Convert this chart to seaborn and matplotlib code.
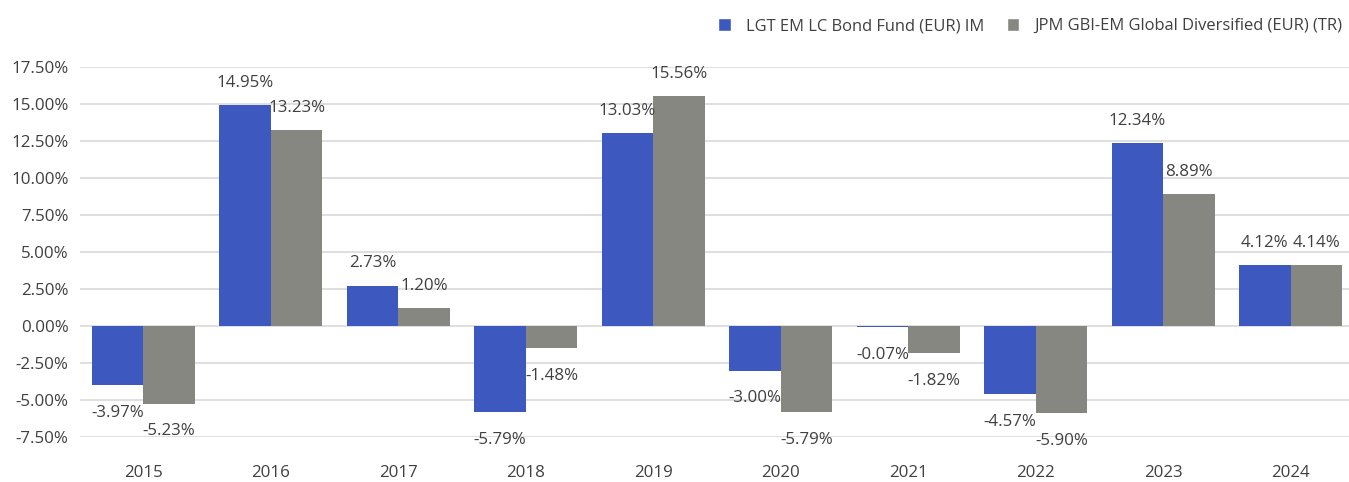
import numpy as np
import pandas as pd
from matplotlib import pyplot as plt
from matplotlib.ticker import FuncFormatter
from matplotlib.patches import Patch
import seaborn as sns

years = ["2015", "2016", "2017", "2018", "2019", "2020", "2021", "2022", "2023", "2024"]
fund_name = "LGT EM LC Bond Fund (EUR) IM"
bench_name = "JPM GBI-EM Global Diversified (EUR) (TR)"
fund_values = [-3.97, 14.95, 2.73, -5.79, 13.03, -3.00, -0.07, -4.57, 12.34, 4.12]
bench_values = [-5.23, 13.23, 1.20, -1.48, 15.56, -5.79, -1.82, -5.90, 8.89, 4.14]
y_ticks = [-7.5, -5.0, -2.5, 0.0, 2.5, 5.0, 7.5, 10.0, 12.5, 15.0, 17.5]

blue = "#3D59BF"
grey = "#878782"
text_col = "#404040"

sns.set_style("white")
plt.rcParams["font.family"] = ["Open Sans", "DejaVu Sans"]

df = pd.DataFrame({
    "year": years * 2,
    "value": fund_values + bench_values,
    "series": [fund_name] * len(years) + [bench_name] * len(years),
})

fig = plt.figure(figsize=(13.49, 4.82), dpi=100)
ax = fig.add_axes([0.059, 0.093, 0.945, 0.768])

sns.barplot(
    data=df, x="year", y="value", hue="series",
    hue_order=[fund_name, bench_name],
    palette=[blue, grey], width=0.81, saturation=1,
    linewidth=0, legend=False, ax=ax, zorder=2,
)

for container in ax.containers:
    for bar in container:
        h = bar.get_height()
        x = bar.get_x() + bar.get_width() / 2
        dy = 16 if h >= 0 else -20
        ax.annotate(f"{h:.2f}%", (x, h), xytext=(0, dy), textcoords="offset points",
                    ha="center", va="center", fontsize=12.2, color=text_col,
                    annotation_clip=False)

ax.set_xlim(-0.5, 9.5)
ax.set_ylim(-7.5, 17.5)
ax.set_yticks(y_ticks)
ax.yaxis.set_major_formatter(FuncFormatter(lambda v, p: f"{v:.2f}%"))
ax.grid(axis="y", color="#D9D9D9", linewidth=1.2, zorder=0)
ax.set_axisbelow(True)
for s in ax.spines.values():
    s.set_visible(False)
ax.set_xlabel("")
ax.set_ylabel("")
ax.tick_params(axis="both", length=0, labelsize=12.2, colors=text_col)
ax.tick_params(axis="x", pad=20)
ax.tick_params(axis="y", pad=8)

handles = [Patch(facecolor=blue), Patch(facecolor=grey)]
fig.legend(handles, [fund_name, bench_name], loc="upper right", ncol=2,
           bbox_to_anchor=(1.006, 0.993), frameon=False, fontsize=11.9,
           handlelength=0.75, handleheight=0.75, columnspacing=1.4, handletextpad=0.9,
           labelcolor=text_col)

fig.savefig("out.png", dpi=100)
plt.close(fig)
